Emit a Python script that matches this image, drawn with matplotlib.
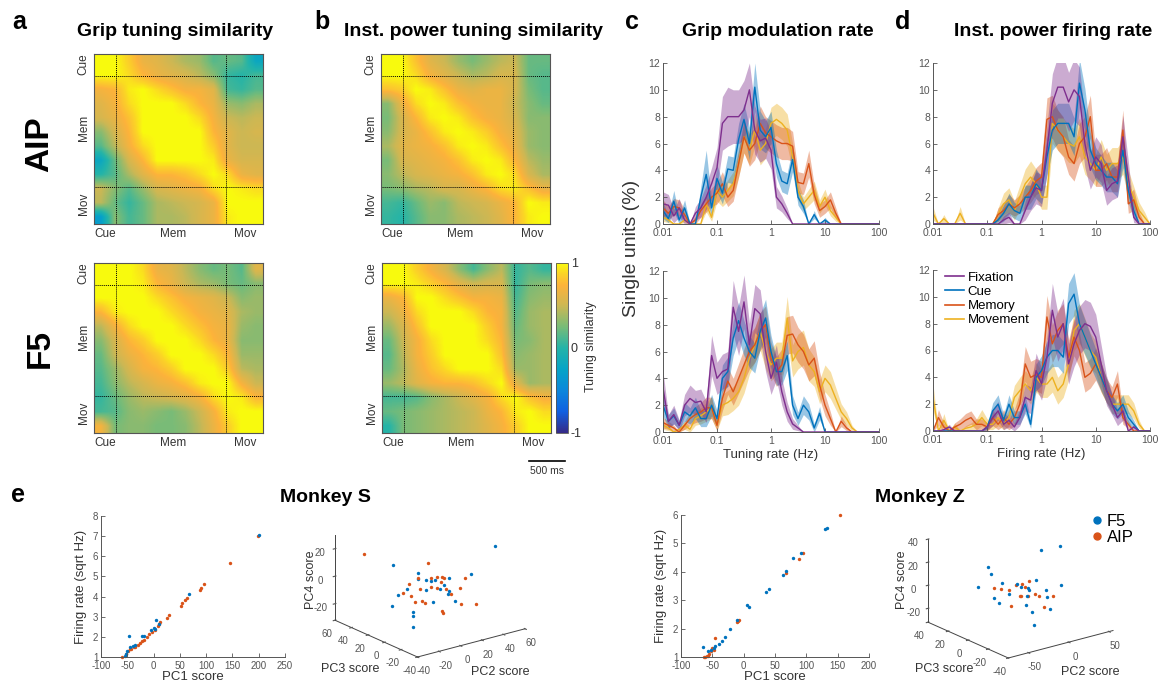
import numpy as np
import matplotlib
matplotlib.use('Agg')
import matplotlib.pyplot as plt
from matplotlib.colors import LinearSegmentedColormap
from matplotlib.lines import Line2D
from mpl_toolkits.mplot3d import proj3d

plt.rcParams['font.family'] = ['Liberation Sans', 'DejaVu Sans']
plt.rcParams['axes.unicode_minus'] = False

# ---------------- data ----------------
epochs = ['Fixation', 'Cue', 'Memory', 'Movement']
epoch_colors = ['#7E2F8E', '#0072BD', '#D95319', '#EDB120']
freqs = np.logspace(-2, 2, 41)

# panel a/b tuning similarity matrices (rows/cols: Cue -> Mem -> Mov)
aip_grip = [
    [1, 1, 0.85, 0.65, 0.6, 0.5, 0.4, 0.35, 0.15, 0.2, 0.15, -0.2],
    [1, 1, 0.9, 0.75, 0.65, 0.6, 0.55, 0.45, 0.3, 0.05, 0.0, 0.1],
    [0.7, 0.75, 0.95, 1, 0.9, 0.8, 0.7, 0.7, 0.6, 0.1, 0.05, 0.15],
    [0.6, 0.7, 0.9, 1, 1, 1, 0.9, 0.75, 0.65, 0.35, 0.3, 0.4],
    [0.55, 0.65, 0.8, 1, 1, 1, 1, 0.9, 0.7, 0.5, 0.45, 0.5],
    [0.3, 0.55, 0.75, 1, 1, 1, 1, 1, 0.75, 0.6, 0.5, 0.55],
    [0.15, 0.45, 0.7, 0.9, 1, 1, 1, 1, 0.85, 0.6, 0.5, 0.5],
    [-0.2, 0.2, 0.55, 0.75, 1, 1, 1, 1, 0.95, 0.65, 0.55, 0.55],
    [0.0, 0.15, 0.4, 0.6, 0.75, 0.75, 0.8, 0.9, 1, 0.9, 0.65, 0.6],
    [0.5, 0.3, 0.15, 0.35, 0.55, 0.6, 0.65, 0.7, 0.9, 1, 0.95, 0.9],
    [0.45, 0.2, 0.05, 0.2, 0.4, 0.45, 0.5, 0.55, 0.65, 1, 1, 1],
    [-0.3, 0.3, 0.1, 0.2, 0.4, 0.4, 0.45, 0.55, 0.65, 0.95, 1, 1],
]
aip_power = [
    [1, 1, 0.8, 0.6, 0.5, 0.35, 0.25, 0.35, 0.45, 0.5, 0.2, 0.2],
    [1, 1, 0.9, 0.7, 0.6, 0.5, 0.4, 0.45, 0.55, 0.55, 0.2, 0.15],
    [0.8, 0.85, 1, 0.95, 0.8, 0.65, 0.6, 0.65, 0.65, 0.55, 0.25, 0.15],
    [0.3, 0.65, 0.9, 1, 0.95, 0.8, 0.7, 0.65, 0.65, 0.5, 0.3, 0.2],
    [0.25, 0.55, 0.75, 0.95, 1, 0.95, 0.8, 0.7, 0.65, 0.55, 0.3, 0.3],
    [0.3, 0.55, 0.65, 0.8, 0.95, 1, 0.95, 0.85, 0.7, 0.6, 0.35, 0.3],
    [0.4, 0.6, 0.65, 0.7, 0.8, 0.95, 1, 0.95, 0.8, 0.65, 0.35, 0.3],
    [0.25, 0.55, 0.6, 0.65, 0.7, 0.8, 0.95, 1, 0.95, 0.75, 0.45, 0.35],
    [0.3, 0.45, 0.55, 0.6, 0.65, 0.7, 0.8, 0.95, 1, 0.9, 0.55, 0.4],
    [0.25, 0.3, 0.4, 0.45, 0.55, 0.55, 0.65, 0.75, 0.9, 0.95, 0.8, 0.65],
    [0.1, 0.05, 0.2, 0.35, 0.3, 0.45, 0.5, 0.55, 0.65, 0.75, 1, 0.95],
    [0.05, 0.0, 0.15, 0.3, 0.3, 0.4, 0.45, 0.5, 0.6, 0.75, 0.95, 1],
]
f5_grip = [
    [1, 1, 1, 0.9, 0.65, 0.6, 0.45, 0.3, 0.2, 0.25, 0.15, 0.6],
    [1, 1, 1, 0.95, 0.75, 0.65, 0.5, 0.4, 0.35, 0.25, 0.2, 0.3],
    [1, 1, 1, 1, 0.9, 0.8, 0.7, 0.65, 0.6, 0.5, 0.3, 0.35],
    [0.75, 0.95, 1, 1, 1, 0.9, 0.8, 0.7, 0.65, 0.6, 0.4, 0.35],
    [0.45, 0.7, 0.9, 1, 1, 1, 0.9, 0.8, 0.7, 0.65, 0.35, 0.3],
    [0.3, 0.55, 0.75, 0.85, 1, 1, 1, 0.9, 0.75, 0.65, 0.3, 0.3],
    [0.2, 0.5, 0.65, 0.75, 0.85, 1, 1, 1, 0.9, 0.75, 0.35, 0.35],
    [0.15, 0.35, 0.55, 0.7, 0.75, 0.85, 1, 1, 1, 0.85, 0.45, 0.4],
    [0.1, 0.3, 0.45, 0.55, 0.65, 0.7, 0.8, 0.95, 1, 1, 0.7, 0.5],
    [0.05, 0.2, 0.35, 0.45, 0.5, 0.55, 0.6, 0.7, 0.9, 1, 0.95, 0.75],
    [0.1, 0.15, 0.3, 0.35, 0.3, 0.25, 0.35, 0.5, 0.7, 0.95, 1, 1],
    [0.7, 0.25, 0.3, 0.3, 0.25, 0.25, 0.3, 0.45, 0.65, 0.85, 1, 1],
]
f5_power = [
    [1, 1, 0.85, 0.7, 0.55, 0.3, 0.1, 0.3, 0.45, 0.05, 0.15, 0.05],
    [1, 1, 0.95, 0.85, 0.75, 0.6, 0.5, 0.55, 0.55, 0.05, 0.25, 0.3],
    [0.65, 0.75, 1, 1, 0.9, 0.8, 0.7, 0.7, 0.65, 0.1, 0.3, 0.35],
    [0.5, 0.65, 0.9, 1, 1, 1, 0.9, 0.75, 0.7, 0.15, 0.35, 0.4],
    [0.35, 0.55, 0.8, 1, 1, 1, 1, 0.85, 0.7, 0.2, 0.35, 0.4],
    [0.2, 0.5, 0.7, 0.9, 1, 1, 1, 0.9, 0.75, 0.25, 0.3, 0.4],
    [0.15, 0.45, 0.7, 0.85, 1, 1, 1, 1, 0.8, 0.3, 0.35, 0.4],
    [0.2, 0.4, 0.65, 0.8, 0.9, 1, 1, 1, 0.9, 0.35, 0.35, 0.4],
    [0.35, 0.45, 0.6, 0.7, 0.75, 0.75, 0.8, 0.9, 1, 0.6, 0.35, 0.4],
    [0.1, 0.1, 0.15, 0.3, 0.4, 0.5, 0.6, 0.7, 0.9, 1, 0.8, 0.7],
    [0.2, 0.25, 0.3, 0.35, 0.4, 0.45, 0.5, 0.65, 0.75, 0.95, 1, 0.9],
    [0.0, 0.25, 0.3, 0.35, 0.4, 0.45, 0.5, 0.6, 0.7, 0.85, 1, 1],
]
period_labels = ['Cue', 'Mem', 'Mov']

# panel c (top: AIP, bottom: F5) grip modulation rate, % single units
fix_ct = [1.5,1.4,0.6,1.2,0.3,0.0,0.8,1.2,2.0,3.0,4.2,7.5,8.0,8.0,8.0,8.5,10.0,7.0,6.2,6.4,5.5,2.0,1.5,0.8,0.0]
cue_ct = [1.0,0.4,1.7,0.3,1.2,0.0,0.0,2.0,3.7,1.2,3.4,2.3,4.1,4.0,6.3,7.8,6.0,10.2,7.0,6.5,7.2,4.5,3.2,3.0,4.8,2.0,1.3,0.0,0.7,0.0,0.3,0.0]
mem_ct = [1.2,0.8,1.3,1.2,0.7,0.0,0.3,1.0,1.5,2.0,2.3,3.0,2.0,2.5,4.5,6.5,5.5,6.0,7.5,6.8,6.5,6.2,6.0,6.0,5.8,3.1,3.0,4.5,2.2,1.0,1.3,1.8,0.8,0.0]
mov_ct = [0.5,0.3,0.0,0.0,0.3,0.0,0.0,0.0,1.5,0.5,2.5,2.0,2.5,3.0,4.5,6.5,5.5,7.0,5.5,6.0,7.5,7.8,7.5,7.0,5.0,2.5,1.5,2.0,2.5,1.3,2.0,1.0,0.5,0.0]
fix_ct_err = [0.9,0.8,0.5,0.7,0.3,0,0.5,0.7,0.9,1.2,1.5,2.0,2.2,2.0,2.0,2.2,2.0,1.8,1.6,1.5,1.4,0.8,0.6,0.4,0]
cue_ct_err = [0.6,0.3,0.8,0.3,0.6,0,0,0.8,1.8,0.6,1.0,0.8,1.0,1.0,1.2,1.2,1.2,1.8,1.4,1.2,1.2,1.0,0.8,0.8,0.9,0.6,0.5,0,0.3,0,0.2,0]
mem_ct_err = [0.6,0.5,0.6,0.6,0.4,0,0.3,0.5,0.6,0.7,0.8,0.9,0.7,0.8,1.0,1.2,1.2,1.2,1.3,1.2,1.2,1.2,1.2,1.2,1.1,0.8,0.8,1.0,0.7,0.5,0.5,0.6,0.4,0]
mov_ct_err = [0.3,0.2,0,0,0.2,0,0,0,0.6,0.3,0.8,0.7,0.8,0.9,1.0,1.2,1.1,1.2,1.1,1.1,1.2,1.2,1.2,1.2,1.0,0.7,0.5,0.6,0.7,0.5,0.6,0.4,0.3,0]

fix_cb = [3.3,0.8,1.3,0.5,2.0,2.5,2.2,2.3,1.5,5.7,4.0,4.5,4.7,9.3,7.5,9.7,6.5,9.2,8.8,6.0,4.0,5.2,3.0,1.5,0.6,0.3]
cue_cb = [2.0,0.8,1.2,0.5,1.5,1.2,1.8,1.0,1.0,2.0,1.0,4.0,4.5,7.0,8.3,7.0,6.0,5.5,7.5,8.5,6.0,4.5,4.5,5.7,2.0,1.0,2.0,1.5,0.3,1.4,0.0]
mem_cb = [0.7,0.5,0.3,0.0,0.5,1.0,1.3,1.5,1.8,1.8,0.5,2.5,3.8,3.0,4.0,5.0,6.0,6.5,7.5,8.0,5.5,4.5,5.0,7.2,7.3,6.5,6.0,5.0,5.5,3.5,2.0,1.0,0.0,0.8,0.3,0.0]
mov_cb = [0.5,0.3,0.0,0.2,0.5,0.2,1.0,1.2,1.5,1.8,0.5,2.0,2.2,2.5,3.0,4.0,5.5,6.5,7.5,6.0,5.0,5.5,5.5,8.5,5.3,6.0,6.3,5.0,4.5,3.0,4.0,3.5,2.5,1.5,1.0,0.3,0.0]
fix_cb_err = [1.2,0.5,0.7,0.4,0.8,1.0,0.9,0.9,0.8,1.5,1.2,1.3,1.3,2.0,1.8,2.0,1.6,1.8,1.8,1.5,1.2,1.3,1.0,0.7,0.4,0.2]
cue_cb_err = [0.8,0.5,0.6,0.3,0.7,0.6,0.8,0.6,0.6,0.8,0.6,1.0,1.1,1.3,1.4,1.3,1.2,1.1,1.3,1.4,1.2,1.0,1.0,1.1,0.7,0.5,0.7,0.6,0.3,0.5,0]
mem_cb_err = [0.4,0.3,0.2,0,0.3,0.5,0.6,0.7,0.8,0.8,0.4,0.9,1.0,1.0,1.1,1.2,1.3,1.3,1.4,1.4,1.2,1.1,1.2,1.4,1.4,1.3,1.3,1.2,1.3,1.0,0.8,0.5,0,0.4,0.2,0]
mov_cb_err = [0.3,0.2,0,0.2,0.3,0.2,0.5,0.6,0.7,0.8,0.4,0.8,0.9,0.9,1.0,1.1,1.2,1.3,1.4,1.3,1.2,1.2,1.2,1.6,1.2,1.3,1.3,1.2,1.1,0.9,1.0,1.0,0.8,0.6,0.5,0.2,0]

# panel d (top: AIP, bottom: F5) instantaneous power firing rate
fix_dt = [0]*12 + [0,0.3,0.5,0,0,1.0,2.0,2.7,2.5,5.5,9.0,10.2,10.2,9.1,10.0,9.5,6.0,4.0,5.0,4.5,2.5,3.0,3.2,6.5,3.5,0.5,0,0]
cue_dt = [0]*12 + [0.3,0.8,1.5,1.0,0.8,2.0,2.0,3.0,2.5,5.0,7.0,7.5,7.5,7.5,6.5,10.5,8.5,5.5,4.5,4.0,3.5,3.5,3.0,5.5,2.5,1.0,0,0]
mem_dt = [0]*12 + [0.7,1.0,1.5,1.2,1.5,2.0,2.5,3.2,3.5,7.8,8.0,7.0,6.5,5.0,4.5,6.0,6.5,8.0,4.0,4.0,4.5,3.5,3.5,7.0,1.5,1.8,0.5,0]
mov_dt = [0.8,0,0.4,0,0,0.8,0,0,0,0,0,0,0.7,1.5,1.8,1.0,2.0,3.0,3.5,3.0,2.0,2.0,7.5,7.0,6.5,6.0,5.8,6.5,5.0,4.5,4.0,5.0,4.0,4.5,4.5,5.0,3.0,2.0,1.0,0.5]
fix_dt_err = [0]*12 + [0,0.3,0.4,0,0,0.7,1.0,1.2,1.2,1.8,2.2,2.3,2.3,2.2,2.3,2.2,1.8,1.4,1.5,1.4,1.1,1.2,1.2,1.6,1.2,0.4,0,0]
cue_dt_err = [0]*12 + [0.3,0.6,0.8,0.6,0.6,0.9,0.9,1.1,1.0,1.4,1.5,1.5,1.5,1.5,1.4,1.8,1.6,1.3,1.2,1.1,1.1,1.1,1.0,1.3,0.9,0.6,0,0]
mem_dt_err = [0]*12 + [0.5,0.6,0.7,0.6,0.7,0.8,0.9,1.0,1.1,1.6,1.6,1.5,1.5,1.3,1.3,1.5,1.5,1.6,1.2,1.2,1.2,1.1,1.1,1.5,0.7,0.8,0.4,0]
mov_dt_err = [0.5,0,0.3,0,0,0.5,0,0,0,0,0,0,0.5,0.8,0.9,0.7,0.9,1.1,1.2,1.1,0.9,0.9,1.5,1.5,1.4,1.4,1.3,1.4,1.3,1.2,1.2,1.3,1.2,1.2,1.2,1.3,1.0,0.8,0.6,0.4]

fix_db = [0,0,0.1,0.3,0,0,0,0,0,0,0.3,1.0,1.5,0.5,0.8,0.3,1.0,2.5,2.3,4.5,3.5,5.5,9.0,7.0,8.0,5.0,6.5,7.5,8.0,7.8,7.0,5.0,3.0,2.0,1.0,1.5,0.0,0.3,0,0,0]
cue_db = [0,0,0,0,0,0,0,0,0,0,0.3,1.5,2.0,0.8,2.0,1.0,1.0,2.0,0.5,4.0,4.5,5.5,6.0,6.0,5.5,9.5,10.2,8.0,7.0,6.0,5.0,4.0,3.0,2.0,1.5,2.0,1.0,0.5,0,0,0]
mem_db = [0,1.0,0.3,0,0.3,0.5,0.8,1.0,0.5,0.5,0.3,1.0,0.5,1.0,0.5,1.0,2.0,5.0,4.0,4.2,4.0,8.5,6.5,7.5,8.0,5.5,7.0,6.0,4.0,4.3,5.0,4.0,3.0,2.5,3.5,1.0,0.5,0,0,0,0]
mov_db = [2.5,0,0.8,0,0.3,0,0.2,0.3,0.5,1.0,0.5,0.5,1.0,0.5,1.0,2.5,3.0,3.5,3.0,4.0,3.5,3.5,4.0,3.0,3.5,5.0,7.5,8.0,7.0,6.0,5.5,4.0,3.0,2.0,2.0,2.0,2.0,1.5,0.5,0,0]
fix_db_err = [0,0,0.1,0.2,0,0,0,0,0,0,0.2,0.6,0.7,0.4,0.5,0.3,0.6,1.0,1.0,1.3,1.2,1.5,2.0,1.8,1.9,1.5,1.7,1.8,1.8,1.8,1.7,1.4,1.1,0.8,0.6,0.7,0,0.2]
cue_db_err = [0,0,0,0,0,0,0,0,0,0,0.2,0.6,0.7,0.4,0.7,0.5,0.5,0.7,0.3,1.0,1.1,1.2,1.2,1.2,1.2,1.5,1.6,1.4,1.3,1.2,1.1,1.0,0.9,0.7,0.6,0.7,0.5,0.3]
mem_db_err = [0,0.6,0.3,0,0.3,0.4,0.5,0.5,0.4,0.4,0.3,0.6,0.4,0.6,0.4,0.6,0.9,1.3,1.2,1.2,1.2,1.6,1.4,1.5,1.5,1.3,1.4,1.3,1.1,1.1,1.2,1.1,0.9,0.8,1.0,0.5,0.3]
mov_db_err = [1.0,0,0.5,0,0.3,0,0.2,0.3,0.4,0.6,0.4,0.4,0.6,0.4,0.6,0.9,1.0,1.0,1.0,1.1,1.0,1.0,1.1,1.0,1.0,1.2,1.5,1.5,1.4,1.3,1.2,1.1,0.9,0.7,0.7,0.7,0.7,0.6,0.3]

# panel e: PCA scores
areas = ['F5', 'AIP']
area_colors = ['#0072BD', '#D95319']
s_pc1_f5 = [-55,-52,-50,-47,-44,-40,-35,-22,-18,-5,0,2,5,10,68,201]
s_fr_f5 = [1.05,1.15,1.3,2.05,1.5,1.55,1.62,2.05,2.05,2.35,2.45,2.4,2.85,2.62,4.15,7.05]
s_pc1_aip = [-60,-52,-48,-45,-42,-38,-35,-30,-26,-22,-18,-12,-8,-3,2,8,10,12,25,30,52,55,60,63,88,91,95,145,198]
s_fr_aip = [1.0,1.15,1.3,1.38,1.42,1.48,1.52,1.6,1.7,1.78,1.85,2.0,2.15,2.25,2.35,2.55,2.65,2.75,2.95,3.1,3.55,3.7,3.82,3.92,4.35,4.45,4.6,5.65,7.0]
z_pc1_f5 = [-65,-57,-52,-48,-45,-40,-35,-30,-22,-10,5,8,35,40,62,68,78,92,130,133]
z_fr_f5 = [1.35,1.2,1.25,1.3,1.38,1.45,1.55,1.7,2.0,2.3,2.82,2.75,3.28,3.4,3.9,4.02,4.5,4.65,5.5,5.53]
z_pc1_aip = [-63,-61,-59,-57,-55,-52,-50,-48,-45,-10,-9,-8,67,88,95,153]
z_fr_aip = [1.0,1.0,1.02,1.05,1.1,1.2,1.3,1.25,1.68,2.25,2.28,2.32,3.95,4.45,4.65,6.0]

s_pc2_aip = [-35.7,0.1,-13.4,-0.8,15,8.8,29.3,8,38.5,-11.6,-19.3,-4.3,-5,13,-4.1,20.3,16.7,13.6,13.9,22,45.9,23.6,48.9,8.5,29.5]
s_pc3_aip = [30,0,5,10,15,0,20,-10,5,15,-5,10,0,20,-10,15,5,-5,0,10,20,-10,5,20,10]
s_pc4_aip = [23.5,17.5,3.6,3.7,-0.5,5.2,-4.3,7.7,-2.7,-5.7,-1.2,-12.8,-9.4,-19.6,3.6,-8.6,-1.5,-2.6,-20,-26.1,-15.3,-14.4,-23.7,-8.3,-13.6]
s_pc2_f5 = [-20.6,-4.7,-12.3,6.7,3.6,22.3,15.3,27.2,16.4,35.5,19.2,-19.9,-17.4,-9.9,-13.1,-17.6,12.9,26,52.4,54.7,-15,-5.4]
s_pc3_f5 = [15,5,-5,10,0,20,5,15,-5,20,0,10,20,5,0,-5,10,0,15,-10,5,-5]
s_pc4_f5 = [16.3,9.5,9.6,0.9,3.7,-4.5,-5.7,-7.9,4.2,-15.2,-9,-4.6,-15.8,-17.8,-18.1,-24,-15.9,-15.8,-5,20.9,0.1,0.6]
z_pc2_f5 = [-53.3,-50.4,-51.3,-28,-52.6,-36.4,5.4,38.8,20.6,14.7,-24.8,9.5,-7.3,-14.5,7.2,4.8,-2.6,16.4,32.6,11.8,-10,-29]
z_pc3_f5 = [8,0,-4,4,-8,0,-8,0,-16,4,-8,8,-4,-12,8,0,-8,-4,8,-12,0,-4]
z_pc4_f5 = [7,26.5,22.8,7.7,3.4,-7.1,34.7,28.4,4.8,2.1,10.4,-5.3,-4.2,5,-19.9,-22,-29.2,-4.1,-17.8,-16.1,1.8,1.1]
z_pc2_aip = [-42.5,-44.3,-18.7,-20.8,1.6,-9.5,-25.3,1.2,-0.6,3.4,18.5,-31.8,18.9,20.7,-4]
z_pc3_aip = [0,-8,4,-4,8,-8,-12,8,0,-4,4,-8,0,-8,0]
z_pc4_aip = [7,9.4,-0.5,7.3,-0.5,9.9,2.1,-11.2,-7.8,-4.6,-12.2,-7.3,-20.8,-8.1,1.2]

# ---------------- figure ----------------
W, H = 1160, 681
fig = plt.figure(figsize=(W / 100, H / 100), dpi=100)

def rect(x0, y0, x1, y1):
    return [x0 / W, 1 - y1 / H, (x1 - x0) / W, (y1 - y0) / H]

def ftext(x, y, s, **kw):
    kw.setdefault('ha', 'center')
    kw.setdefault('va', 'center')
    return fig.text(x / W, 1 - y / H, s, **kw)

parula = LinearSegmentedColormap.from_list('parula', [
    (0.000, (0.2081, 0.1663, 0.5292)),
    (0.125, (0.0640, 0.3770, 0.8830)),
    (0.250, (0.0460, 0.5300, 0.8600)),
    (0.375, (0.0230, 0.6420, 0.7800)),
    (0.500, (0.1400, 0.7050, 0.6600)),
    (0.625, (0.4700, 0.7350, 0.4700)),
    (0.750, (0.8000, 0.7200, 0.3300)),
    (0.870, (0.9900, 0.7000, 0.2300)),
    (0.940, (0.9850, 0.8300, 0.1500)),
    (1.000, (0.9760, 0.9830, 0.0540))])

def heatmap(r, M):
    ax = fig.add_axes(r)
    im = ax.imshow(np.array(M, dtype=float), cmap=parula, vmin=-1, vmax=1,
                   extent=(0, 1, 0, 1), origin='upper', aspect='auto',
                   interpolation='bilinear')
    for v in (0.13, 0.78):
        ax.axvline(v, color='k', lw=0.7, ls=(0, (1, 1)))
    for h in (1 - 0.128, 1 - 0.78):
        ax.axhline(h, color='k', lw=0.7, ls=(0, (1, 1)))
    ax.set_xlim(0, 1); ax.set_ylim(0, 1)
    ax.set_xticks([0.066, 0.47, 0.896], period_labels)
    ax.set_yticks([1 - 0.062, 1 - 0.436, 1 - 0.88], period_labels,
                  rotation=90, va='center')
    ax.tick_params(length=0, labelsize=8.5, colors='#333333', pad=3)
    for s in ax.spines.values():
        s.set_color('#555555'); s.set_linewidth(0.8)
    return im

heatmap(rect(94, 54, 263, 224), aip_grip)
heatmap(rect(381, 54, 550, 224), aip_power)
heatmap(rect(94, 263, 263, 433), f5_grip)
im = heatmap(rect(382, 263, 551, 433), f5_power)
cax = fig.add_axes(rect(556, 263, 568, 433))
cb = fig.colorbar(im, cax=cax, ticks=[-1, 0, 1])
cb.ax.set_yticklabels(['-1', '0', '1'])
cb.ax.tick_params(length=0, labelsize=9, colors='#333333', pad=2)
cb.outline.set_edgecolor('#555555'); cb.outline.set_linewidth(0.6)
ftext(591, 347, 'Tuning similarity', rotation=90, fontsize=9, color='#333333')
fig.add_artist(Line2D([529 / W, 565 / W], [1 - 461 / H, 1 - 461 / H],
                      transform=fig.transFigure, color='k', lw=1.2))
ftext(547, 471, '500 ms', fontsize=7.5, color='#333333')

ftext(40, 144, 'AIP', rotation=90, fontsize=24, fontweight='bold')
ftext(40, 348, 'F5', rotation=90, fontsize=24, fontweight='bold')

for x, letter in [(19, 'a'), (322, 'b'), (632, 'c'), (903, 'd')]:
    ftext(x, 22, letter, fontsize=18, fontweight='bold')
ftext(18, 495, 'e', fontsize=18, fontweight='bold')
ftext(175, 32, 'Grip tuning similarity', fontsize=14, fontweight='bold')
ftext(474, 32, 'Inst. power tuning similarity', fontsize=14, fontweight='bold')
ftext(778, 32, 'Grip modulation rate', fontsize=14, fontweight='bold')
ftext(1053, 32, 'Inst. power firing rate', fontsize=14, fontweight='bold')

def pad(a):
    a = list(a)
    return np.array(a + [0.0] * (len(freqs) - len(a)), dtype=float)

def rate_panel(r, means, errs, xlabel=None, legend=False):
    ax = fig.add_axes(r)
    for k in [3, 2, 1, 0]:
        v = pad(means[k]); e = pad(errs[k])
        ax.fill_between(freqs, np.clip(v - e, 0, None), v + e,
                        color=epoch_colors[k], alpha=0.4, lw=0)
    for k in [3, 2, 1, 0]:
        ax.plot(freqs, pad(means[k]), color=epoch_colors[k], lw=1.0)
    ax.set_xscale('log')
    ax.set_xlim(0.01, 100); ax.set_ylim(0, 12)
    ax.set_xticks([0.01, 0.1, 1, 10, 100], ['0.01', '0.1', '1', '10', '100'])
    ax.minorticks_off()
    ax.set_yticks(range(0, 13, 2))
    ax.tick_params(direction='in', length=3, width=0.6, colors='#555555',
                   labelsize=7.5, pad=2)
    ax.tick_params(axis='x', pad=3)
    for s in ['top', 'right']:
        ax.spines[s].set_visible(False)
    for s in ['left', 'bottom']:
        ax.spines[s].set_color('#555555'); ax.spines[s].set_linewidth(0.7)
    if xlabel:
        ax.set_xlabel(xlabel, fontsize=9.5, color='#333333', labelpad=2)
    if legend:
        hs = [Line2D([], [], color=epoch_colors[k], lw=1.2) for k in range(4)]
        ax.legend(hs, epochs, loc='upper left', bbox_to_anchor=(0.02, 1.04),
                  frameon=False, fontsize=9.5, handlelength=1.4,
                  handletextpad=0.3, labelspacing=0.15, borderaxespad=0.2)
    return ax

rate_panel(rect(663, 63, 879, 224), [fix_ct, cue_ct, mem_ct, mov_ct],
           [fix_ct_err, cue_ct_err, mem_ct_err, mov_ct_err])
rate_panel(rect(663, 271, 879, 432), [fix_cb, cue_cb, mem_cb, mov_cb],
           [fix_cb_err, cue_cb_err, mem_cb_err, mov_cb_err], xlabel='Tuning rate (Hz)')
rate_panel(rect(933, 63, 1150, 224), [fix_dt, cue_dt, mem_dt, mov_dt],
           [fix_dt_err, cue_dt_err, mem_dt_err, mov_dt_err])
rate_panel(rect(933, 270, 1150, 431), [fix_db, cue_db, mem_db, mov_db],
           [fix_db_err, cue_db_err, mem_db_err, mov_db_err], xlabel='Firing rate (Hz)',
           legend=True)
ftext(632, 248, 'Single units (%)', rotation=90, fontsize=14, color='#333333')

# panel e: 2D scatter
def scatter2d(r, f5x, f5y, aipx, aipy, xlim, ylim, xticks, yticks):
    ax = fig.add_axes(r)
    ax.scatter(aipx, aipy, s=6, color=area_colors[1], lw=0, clip_on=False)
    ax.scatter(f5x, f5y, s=6, color=area_colors[0], lw=0, clip_on=False)
    ax.set_xlim(*xlim); ax.set_ylim(*ylim)
    ax.set_xticks(xticks); ax.set_yticks(yticks)
    ax.tick_params(direction='in', length=3, width=0.6, colors='#555555',
                   labelsize=7, pad=2)
    ax.tick_params(axis='x', pad=3)
    for s in ['top', 'right']:
        ax.spines[s].set_visible(False)
    for s in ['left', 'bottom']:
        ax.spines[s].set_color('#555555'); ax.spines[s].set_linewidth(0.7)
    ax.set_xlabel('PC1 score', fontsize=9.5, color='#333333', labelpad=0)
    ax.set_ylabel('Firing rate (sqrt Hz)', fontsize=9.5, color='#333333', labelpad=4)
    return ax

scatter2d(rect(101, 516, 285, 657), s_pc1_f5, s_fr_f5, s_pc1_aip, s_fr_aip,
          (-100, 250), (1, 8), range(-100, 251, 50), range(1, 9))
scatter2d(rect(681, 515, 869, 657), z_pc1_f5, z_fr_f5, z_pc1_aip, z_fr_aip,
          (-100, 200), (1, 6), range(-100, 201, 50), range(1, 7))
ftext(325, 498, 'Monkey S', fontsize=14, fontweight='bold')
ftext(920, 498, 'Monkey Z', fontsize=14, fontweight='bold')

# panel e: 3D scatter
def scatter3d(f5, aip, xlim, ylim, zlim, xt, yt, zt, target):
    ax = fig.add_axes([0.3, 0.0, 0.2, 0.2 * W / H], projection='3d')
    ax.set_proj_type('ortho')
    ax.view_init(elev=20, azim=-127.5)
    ax.scatter(*aip, s=6, color=area_colors[1], depthshade=False, lw=0)
    ax.scatter(*f5, s=6, color=area_colors[0], depthshade=False, lw=0)
    ax.set_xlim(*xlim); ax.set_ylim(*ylim); ax.set_zlim(*zlim)
    ax.set_xticks(xt); ax.set_yticks(yt); ax.set_zticks(zt)
    ax.set_box_aspect((1, 1, 0.67))
    ax.grid(False)
    ax.set_facecolor('none')
    for a in (ax.xaxis, ax.yaxis, ax.zaxis):
        a.set_pane_color((1, 1, 1, 0))
        a.line.set_color('#444444'); a.line.set_linewidth(0.7)
    ax.tick_params(labelsize=7, colors='#555555', pad=-2)
    # place projected box at target location
    xl, xr, yfront = target
    fig.canvas.draw()
    x0, x1 = xlim; y0, y1 = ylim; z0, z1 = zlim
    cx = np.array([x0, x1, x0, x1, x0, x1, x0, x1], float)
    cy = np.array([y0, y0, y1, y1, y0, y0, y1, y1], float)
    cz = np.array([z0, z0, z0, z0, z1, z1, z1, z1], float)
    px, py, _ = proj3d.proj_transform(cx, cy, cz, ax.M)
    d = ax.transData.transform(np.column_stack([px, py]))
    bb = ax.get_position()
    bx0, by0, size = bb.x0 * W, bb.y0 * H, bb.width * W
    qx = (d[:, 0] - bx0) / size; qy = (d[:, 1] - by0) / size
    ns = (xr - xl) / (qx.max() - qx.min())
    nx0 = xl - ns * qx.min()
    ny0 = (H - yfront) - ns * qy[0]
    ax.set_position([nx0 / W, ny0 / H, ns / W, ns / H])
    return ax

scatter3d((s_pc2_f5, s_pc3_f5, s_pc4_f5), (s_pc2_aip, s_pc3_aip, s_pc4_aip),
          (-40, 60), (-40, 60), (-32, 30), range(-40, 61, 20), range(-40, 61, 20),
          [-20, 0, 20], (335, 525, 657))
scatter3d((z_pc2_f5, z_pc3_f5, z_pc4_f5), (z_pc2_aip, z_pc3_aip, z_pc4_aip),
          (-75, 55), (-40, 40), (-32, 40), [-50, 0, 50], range(-40, 41, 20),
          [-20, 0, 20, 40], (928, 1113, 658))
# 3D axis labels
ftext(311, 580, 'PC4 score', rotation=90, fontsize=9, color='#333333')
ftext(350, 669, 'PC3 score', fontsize=9, color='#333333')
ftext(500, 672, 'PC2 score', fontsize=9, color='#333333')
ftext(902, 580, 'PC4 score', rotation=90, fontsize=9, color='#333333')
ftext(944, 669, 'PC3 score', fontsize=9, color='#333333')
ftext(1090, 672, 'PC2 score', fontsize=9, color='#333333')

hs = [Line2D([], [], marker='o', ls='', color=area_colors[k], ms=5) for k in range(2)]
fig.legend(hs, areas, loc='upper left', bbox_to_anchor=(1080 / W, 1 - 507 / H),
           frameon=False, fontsize=12, handletextpad=0.0, labelspacing=0.1,
           borderaxespad=0, handlelength=1.2)

fig.savefig('out.png', dpi=100)
